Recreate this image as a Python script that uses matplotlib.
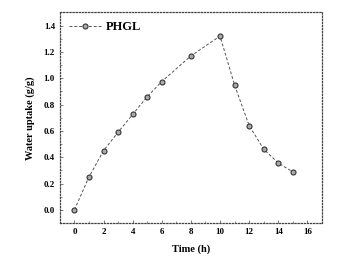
import matplotlib
matplotlib.use("Agg")
import matplotlib.pyplot as plt
from matplotlib.ticker import MultipleLocator

time_h = [0, 1, 2, 3, 4, 5, 6, 8, 10, 11, 12, 13, 14, 15]
uptake = [0.0, 0.25, 0.45, 0.59, 0.725, 0.86, 0.975, 1.17, 1.32, 0.947, 0.64, 0.46, 0.356, 0.288]
series_name = "PHGL"
xticks = [0, 2, 4, 6, 8, 10, 12, 14, 16]
yticks = [0.0, 0.2, 0.4, 0.6, 0.8, 1.0, 1.2, 1.4]

plt.rcParams['font.family'] = ['Liberation Serif', 'DejaVu Serif']
plt.rcParams['font.weight'] = 'bold'

fig = plt.figure(figsize=(3.42, 2.70), dpi=100)
ax = fig.add_axes([0.175, 0.174, 0.7665, 0.78])

ax.plot(time_h, uptake, linestyle=(0, (3, 2)), color='#555555', linewidth=0.7,
        marker='o', markersize=3.6, markerfacecolor='#aaaaaa', markeredgecolor='#333333',
        markeredgewidth=0.8, label=series_name)

ax.set_xlim(-1, 17)
ax.set_ylim(-0.1, 1.5)
ax.set_xticks(xticks)
ax.set_yticks(yticks)
ax.set_yticklabels([f"{v:.1f}" for v in yticks])
ax.xaxis.set_minor_locator(MultipleLocator(1))
ax.yaxis.set_minor_locator(MultipleLocator(0.1))
ax.tick_params(which='both', direction='in', labelsize=6.5, color='#666666')
ax.tick_params(which='major', length=2.5, width=0.6)
ax.tick_params(which='minor', length=1.5, width=0.5)
for lab in ax.get_xticklabels() + ax.get_yticklabels():
    lab.set_fontweight('bold')

for s in ax.spines.values():
    s.set_linestyle((0, (1, 1.5)))
    s.set_linewidth(0.9)
    s.set_color('#444444')

ax.set_xlabel("Time (h)", fontsize=7.5, fontweight='bold', labelpad=6)
ax.set_ylabel("Water uptake (g/g)", fontsize=7.5, fontweight='bold', labelpad=6)

leg = ax.legend(loc='upper left', frameon=False, prop={'size': 9, 'weight': 'bold'},
                handlelength=2.6, borderaxespad=0.3, handletextpad=0.4)

fig.savefig("out.png", dpi=100)
